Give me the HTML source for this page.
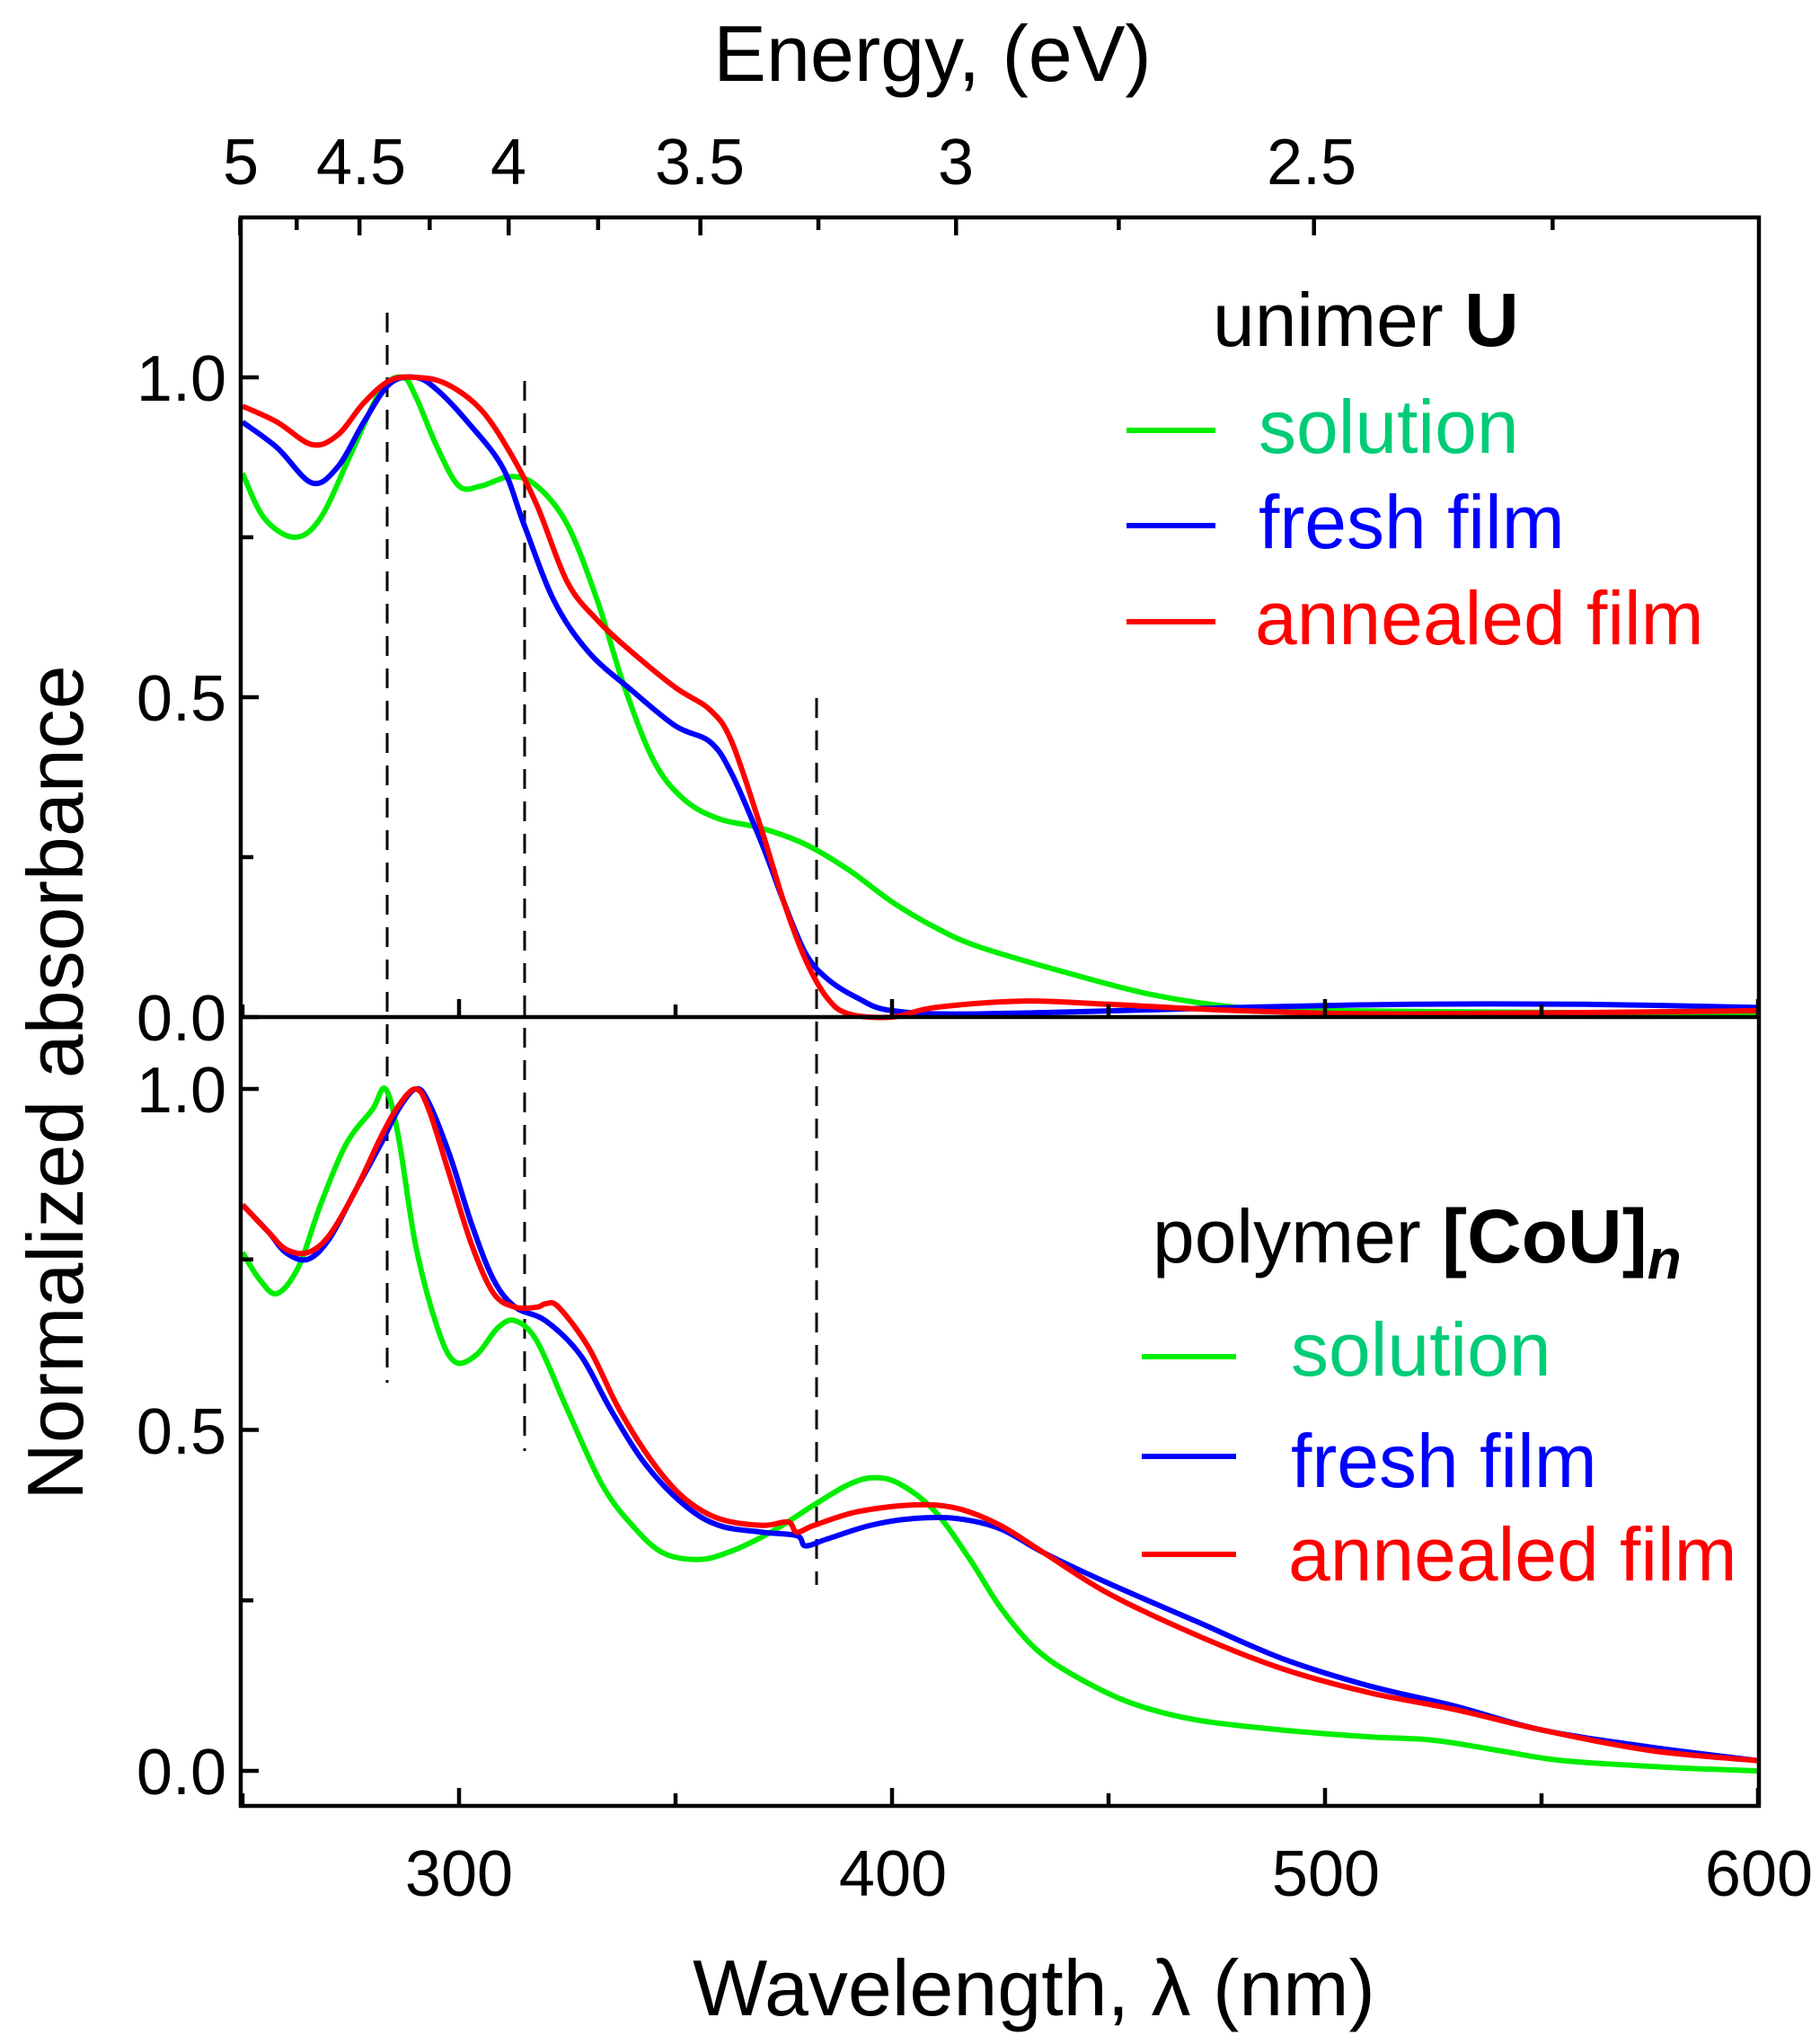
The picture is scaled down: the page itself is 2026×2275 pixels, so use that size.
<!DOCTYPE html>
<html><head><meta charset="utf-8"><style>html,body{margin:0;padding:0;background:#fff}svg{display:block}</style></head>
<body>
<svg id="s" width="2026" height="2275" xmlns="http://www.w3.org/2000/svg" font-family="Liberation Sans, sans-serif">
<rect width="2026" height="2275" fill="#fff"/>
<g id="g"></g>
<g font-size="72" fill="#000">
<text x="268" y="205" text-anchor="middle">5</text>
<text x="402" y="205" text-anchor="middle">4.5</text>
<text x="566" y="205" text-anchor="middle">4</text>
<text x="779" y="205" text-anchor="middle">3.5</text>
<text x="1064" y="205" text-anchor="middle">3</text>
<text x="1460" y="205" text-anchor="middle">2.5</text>
<text x="511" y="2110" text-anchor="middle">300</text>
<text x="994" y="2110" text-anchor="middle">400</text>
<text x="1476" y="2110" text-anchor="middle">500</text>
<text x="1958" y="2110" text-anchor="middle">600</text>
<text x="252" y="446" text-anchor="end">1.0</text>
<text x="252" y="802" text-anchor="end">0.5</text>
<text x="252" y="1158" text-anchor="end">0.0</text>
<text x="252" y="1238" text-anchor="end">1.0</text>
<text x="252" y="1618" text-anchor="end">0.5</text>
<text x="252" y="1997" text-anchor="end">0.0</text>
</g>
<g font-size="88" fill="#000">
<text x="1038" y="90" text-anchor="middle">Energy, (eV)</text>
<text x="1151" y="2243" text-anchor="middle">Wavelength, λ (nm)</text>
<text transform="translate(92,1205) rotate(-90)" text-anchor="middle">Normalized absorbance</text>
</g>
<g font-size="84">
<text x="1350" y="385" fill="#000">unimer <tspan font-weight="bold">U</tspan></text>
<text x="1401" y="504" fill="#00cc77">solution</text>
<text x="1401" y="610" fill="#0000ff">fresh film</text>
<text x="1397" y="717" fill="#ff0000">annealed film</text>
<text x="1283" y="1405" fill="#000">polymer <tspan font-weight="bold">[CoU]</tspan><tspan font-weight="bold" font-style="italic" font-size="62" dy="18">n</tspan></text>
<text x="1437" y="1531" fill="#00cc77">solution</text>
<text x="1437" y="1655" fill="#0000ff">fresh film</text>
<text x="1434" y="1759" fill="#ff0000">annealed film</text>
</g>
<g stroke-width="6">
<line x1="1254" y1="479" x2="1353" y2="479" stroke="#00ee00"/>
<line x1="1254" y1="585" x2="1353" y2="585" stroke="#0000ff"/>
<line x1="1254" y1="692" x2="1353" y2="692" stroke="#ff0000"/>
<line x1="1271" y1="1510" x2="1376" y2="1510" stroke="#00ee00"/>
<line x1="1271" y1="1621" x2="1376" y2="1621" stroke="#0000ff"/>
<line x1="1271" y1="1730" x2="1376" y2="1730" stroke="#ff0000"/>
</g>
</svg>
<script>
const g=document.getElementById('g');const NS='http://www.w3.org/2000/svg';
function X(l){return 511+(l-300)*4.82}
function Yt(v){return 1132-v*712}
function Yb(v){return 1971-v*759}
function el(t,a){const e=document.createElementNS(NS,t);for(const k in a)e.setAttribute(k,a[k]);g.appendChild(e);return e}
function curve(d,Y,c){const p=[];for(let i=0;i<d.length;i+=2)p.push([X(d[i]),Y(d[i+1])]);
let s='M'+p[0][0]+','+p[0][1];
for(let i=0;i<p.length-1;i++){const p0=p[Math.max(0,i-1)],p1=p[i],p2=p[i+1],p3=p[Math.min(p.length-1,i+2)];
s+=' C'+(p1[0]+(p2[0]-p0[0])/6)+','+(p1[1]+(p2[1]-p0[1])/6)+' '+(p2[0]-(p3[0]-p1[0])/6)+','+(p2[1]-(p3[1]-p1[1])/6)+' '+p2[0]+','+p2[1];}
el('path',{d:s,fill:'none',stroke:c,'stroke-width':6,'stroke-linejoin':'round'});}
[[431,348,1539],[584,424,1615],[909,777,1764]].forEach(a=>el('line',{x1:a[0],y1:a[1],x2:a[0],y2:a[2],stroke:'#000','stroke-width':3,'stroke-dasharray':'22,14'}));
curve([250,.85,255,.78,262,.75,268,.78,275,.88,282,.98,287,1,290,.97,295,.89,300,.83,305,.83,312,.845,318,.83,325,.77,332,.65,338,.52,345,.4,352,.34,360,.31,370,.295,380,.27,390,.23,400,.18,410,.14,420,.11,440,.07,460,.035,480,.015,500,.01,600,.005],Yt,'#00ee00');
curve([250,.93,258,.89,266,.835,272,.86,278,.93,284,.99,290,1,295,.98,302,.93,310,.86,315,.77,322,.65,330,.57,340,.51,350,.455,358,.43,363,.38,370,.27,375,.18,380,.1,385,.06,392,.03,400,.01,420,.005,480,.015,520,.02,560,.02,600,.015],Yt,'#0000ff');
curve([250,.955,258,.93,266,.895,272,.91,278,.96,284,.995,290,1,297,.99,305,.95,312,.88,318,.8,325,.68,332,.62,340,.57,350,.515,358,.48,363,.43,370,.29,375,.18,380,.09,385,.03,390,.005,400,0,410,.015,430,.025,450,.02,480,.01,520,.005,600,.01],Yt,'#ff0000');
curve([250,.76,254,.72,258,.7,263,.74,268,.83,274,.92,280,.97,283,1,286,.93,290,.77,295,.65,299,.6,304,.61,309,.65,313,.66,318,.63,325,.53,333,.42,340,.36,347,.32,355,.31,362,.32,372,.35,382,.39,390,.42,396,.43,402,.42,410,.38,418,.31,425,.24,433,.18,442,.14,455,.1,470,.075,490,.06,510,.05,525,.045,540,.03,555,.015,580,.005,600,0],Yb,'#00ee00');
curve([250,.83,256,.79,260,.76,265,.75,270,.78,276,.85,282,.92,286,.97,290,1,293,.98,298,.9,303,.8,308,.72,313,.68,320,.66,328,.61,335,.53,343,.45,352,.39,360,.36,370,.35,378,.345,380,.33,385,.34,395,.36,405,.37,415,.37,425,.355,435,.32,450,.275,470,.22,490,.165,510,.125,530,.095,550,.06,575,.035,600,.015],Yb,'#0000ff');
curve([250,.83,256,.79,260,.765,265,.76,270,.785,276,.85,282,.93,286,.975,290,1,293,.97,298,.87,303,.77,308,.7,313,.68,318,.68,320,.685,323,.68,330,.62,337,.53,345,.45,352,.4,360,.37,370,.36,376,.365,378,.35,382,.36,392,.38,405,.39,415,.385,425,.36,435,.32,450,.26,470,.2,490,.15,510,.115,530,.09,550,.06,575,.03,600,.015],Yb,'#ff0000');
const A={stroke:'#000','stroke-width':4.5,fill:'none'};
el('rect',Object.assign({x:268,y:242,width:1690,height:1768},A));
el('line',Object.assign({x1:268,y1:1132,x2:1958,y2:1132},A));
for(let E=5;E>=2.24;E-=0.25){const x=X(1240/E)+7;if(x>1958)break;const maj=Math.abs(E*2-Math.round(E*2))<1e-6;el('line',Object.assign({x1:x,y1:242,x2:x,y2:242+(maj?20:14)},A));}
for(let l=250;l<=600;l+=50){const x=X(l);const maj=l%100==0;el('line',Object.assign({x1:x,y1:2010,x2:x,y2:2010-(maj?20:14)},A));el('line',Object.assign({x1:x,y1:1132,x2:x,y2:1132-(maj?20:14)},A));}
[0,.25,.5,.75,1].forEach(v=>{const m=(v*2)%1==0?20:14;el('line',Object.assign({x1:268,y1:Yt(v),x2:268+m,y2:Yt(v)},A));el('line',Object.assign({x1:268,y1:Yb(v),x2:268+m,y2:Yb(v)},A));});
</script>
</body></html>
